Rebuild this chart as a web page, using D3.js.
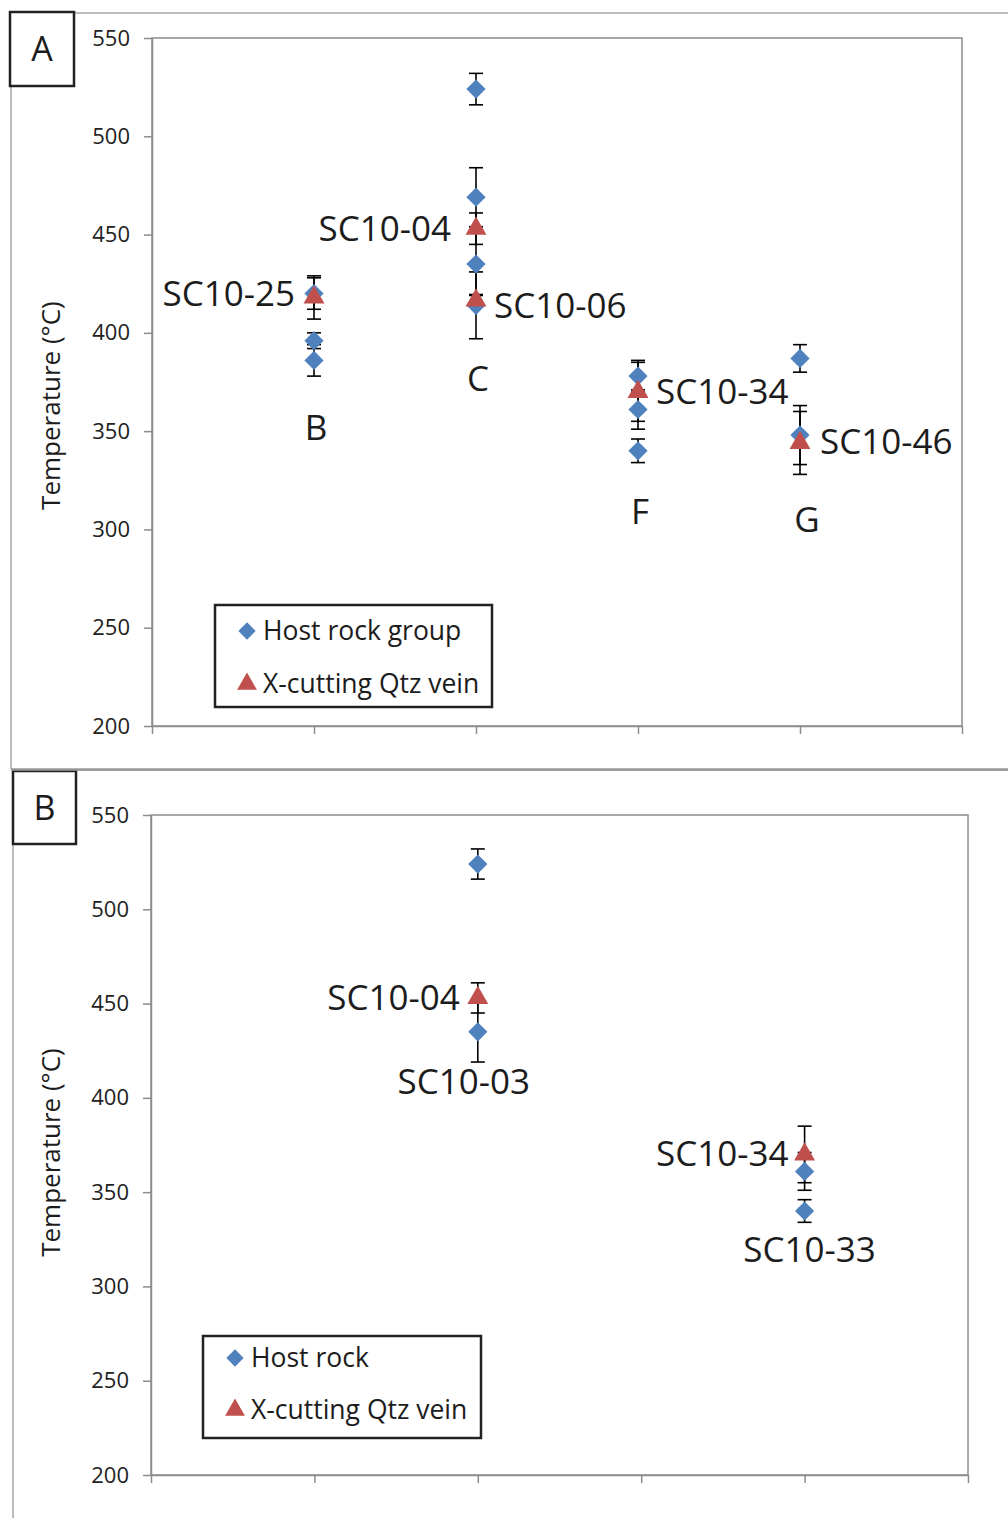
<!DOCTYPE html>
<html>
<head>
<meta charset="utf-8">
<script src="https://cdn.jsdelivr.net/npm/d3@7"></script>
<style>
  body { margin: 0; background: #fff; }
  svg { display: block; }
  text { font-family: "Open Sans", "Noto Sans", sans-serif; }
</style>
</head>
<body>
<svg id="fig" width="1008" height="1518"></svg>
<script>
// ---- shared axis settings ----
const yTicks = [200, 250, 300, 350, 400, 450, 500, 550];
const xTicks = [0, 1, 2, 3, 4, 5];

// ---- Panel A: host rock groups B, C, F, G with cross-cutting quartz veins ----
const hostA_x   = [1, 1, 1, 2, 2, 2, 2, 3, 3, 3, 4, 4];
const hostA_t   = [420, 396, 386, 524, 469, 435, 414, 378, 361, 340, 387, 348];
const hostA_err = [8, 4, 8, 8, 15, 16, 17, 8, 10, 6, 7, 15];

const veinA_x   = [1, 2, 2, 3, 4];
const veinA_t   = [418, 453, 416.5, 370, 344];
const veinA_err = [11, 8, 3, 15, 16];

const labelsA_text = ["SC10-25", "SC10-04", "SC10-06", "SC10-34", "SC10-46", "B", "C", "F", "G"];
const labelsA_x    = [1, 2, 2, 3, 4, 1, 2, 3, 4];
const labelsA_t    = [420, 453, 414, 370, 344.5, 352, 377, 309, 305];
const labelsA_side = ["left", "left", "right", "right", "right", "below", "below", "below", "below"];

const legendA = ["Host rock group", "X-cutting Qtz vein"];

// ---- Panel B: host rock samples with cross-cutting quartz veins ----
const hostB_x   = [2, 2, 4, 4];
const hostB_t   = [524, 435, 361, 340];
const hostB_err = [8, 16, 10, 6];

const veinB_x   = [2, 4];
const veinB_t   = [453, 370];
const veinB_err = [8, 15];

const labelsB_text = ["SC10-04", "SC10-03", "SC10-34", "SC10-33"];
const labelsB_x    = [2, 2, 4, 4];
const labelsB_t    = [453, 408.5, 370.5, 319.5];
const labelsB_side = ["left", "below", "left", "below"];

const legendB = ["Host rock", "X-cutting Qtz vein"];

const yTitle = "Temperature (\u00B0C)";

// ---- styles ----
const BLUE = "#4F81BD";
const RED = "#C0504D";
const AXIS = "#8c8c8c";
const INK = "#1c1c1c";

const svg = d3.select("#fig");

const zip = (xs, ts, es) => xs.map((x, i) => ({ x, t: ts[i], e: es ? es[i] : 0 }));

function panel(cfg) {
  const g = svg.append("g");

  // outer frame of the panel
  g.append("line").attr("x1", cfg.frame.x).attr("x2", 1008)
    .attr("y1", cfg.frame.y).attr("y2", cfg.frame.y)
    .attr("stroke", "#a6a6a6").attr("stroke-width", 1.5);
  g.append("line").attr("x1", cfg.frame.x).attr("x2", cfg.frame.x)
    .attr("y1", cfg.frame.y).attr("y2", cfg.frame.bottom)
    .attr("stroke", "#a6a6a6").attr("stroke-width", 1.5);

  // panel letter box
  g.append("rect").attr("x", cfg.tag.x).attr("y", cfg.tag.y)
    .attr("width", cfg.tag.w).attr("height", cfg.tag.h)
    .attr("fill", "#fff").attr("stroke", "#222").attr("stroke-width", 2.5);
  g.append("text").attr("x", cfg.tag.x + cfg.tag.w / 2).attr("y", cfg.tag.y + cfg.tag.h / 2 + 12)
    .attr("text-anchor", "middle").attr("font-size", 34).attr("fill", INK).text(cfg.tag.text);

  const x = d3.scaleLinear().domain([0, 5]).range([cfg.plot.x0, cfg.plot.x1]);
  const y = d3.scaleLinear().domain([200, 550]).range([cfg.plot.y1, cfg.plot.y0]);

  // plot area border
  g.append("rect").attr("x", cfg.plot.x0).attr("y", cfg.plot.y0)
    .attr("width", cfg.plot.x1 - cfg.plot.x0).attr("height", cfg.plot.y1 - cfg.plot.y0)
    .attr("fill", "none").attr("stroke", AXIS).attr("stroke-width", 1.5);

  // axes
  const ya = g.append("g").attr("transform", `translate(${cfg.plot.x0},0)`)
    .call(d3.axisLeft(y).tickValues(yTicks).tickSize(8).tickSizeOuter(0).tickPadding(14));
  ya.selectAll("text").attr("font-size", 22).attr("fill", "#222")
    .attr("font-family", "'Open Sans', sans-serif");
  const xa = g.append("g").attr("transform", `translate(0,${cfg.plot.y1})`)
    .call(d3.axisBottom(x).tickValues(xTicks).tickSize(8).tickSizeOuter(0).tickFormat(""));
  [ya, xa].forEach(a => {
    a.selectAll("path, line").attr("stroke", AXIS).attr("stroke-width", 1.5);
  });

  // axis title
  const ty = y(cfg.titleAt);
  g.append("text").attr("transform", `translate(${cfg.titleX},${ty}) rotate(-90)`)
    .attr("text-anchor", "middle").attr("font-size", 26).attr("fill", INK).text(yTitle);

  const host = zip(cfg.host_x, cfg.host_t, cfg.host_err);
  const vein = zip(cfg.vein_x, cfg.vein_t, cfg.vein_err);
  const cap = 7;

  // error bars (drawn beneath markers)
  const eb = g.append("g").attr("stroke", "#000").attr("stroke-width", 1.6);
  host.concat(vein).forEach(d => {
    const cx = x(d.x), ya0 = y(d.t + d.e), ya1 = y(d.t - d.e);
    eb.append("line").attr("x1", cx).attr("x2", cx).attr("y1", ya0).attr("y2", ya1);
    eb.append("line").attr("x1", cx - cap).attr("x2", cx + cap).attr("y1", ya0).attr("y2", ya0);
    eb.append("line").attr("x1", cx - cap).attr("x2", cx + cap).attr("y1", ya1).attr("y2", ya1);
  });

  const diamond = d3.symbol().type(d3.symbolDiamond2).size(235);
  const triangle = d3.symbol().type(d3.symbolTriangle).size(190);

  g.append("g").selectAll("path").data(host).join("path")
    .attr("d", diamond).attr("fill", BLUE)
    .attr("transform", d => `translate(${x(d.x)},${y(d.t)})`);
  g.append("g").selectAll("path").data(vein).join("path")
    .attr("d", triangle).attr("fill", RED)
    .attr("transform", d => `translate(${x(d.x)},${y(d.t)})`);

  // sample and group labels
  cfg.lab_text.forEach((txt, i) => {
    const side = cfg.lab_side[i];
    const cx = x(cfg.lab_x[i]);
    const nudge = (cfg.nudge && cfg.nudge[txt]) || 0;
    const lx = (side === "left" ? cx - 19 : side === "right" ? cx + 18 : cx + 2) + nudge;
    const anchor = side === "left" ? "end" : side === "right" ? "start" : "middle";
    g.append("text").attr("x", lx).attr("y", y(cfg.lab_t[i]) + 12.5)
      .attr("text-anchor", anchor).attr("font-size", 35).attr("fill", INK).text(txt);
  });

  // legend
  const L = cfg.legend;
  g.append("rect").attr("x", L.x).attr("y", L.y).attr("width", L.w).attr("height", L.h)
    .attr("fill", "#fff").attr("stroke", "#222").attr("stroke-width", 2.5);
  const col = [BLUE, RED];
  cfg.legendText.forEach((txt, i) => {
    const ry = L.y + L.rows[i];
    g.append("path")
      .attr("d", i === 0 ? d3.symbol().type(d3.symbolDiamond2).size(190)()
                         : d3.symbol().type(d3.symbolTriangle).size(170)())
      .attr("fill", col[i]).attr("transform", `translate(${L.x + 32},${ry})`);
    g.append("text").attr("x", L.x + 48).attr("y", ry + 9)
      .attr("font-size", 26.5).attr("fill", INK).text(txt);
  });
}

panel({
  frame: { x: 11, y: 13, bottom: 769 },
  tag: { x: 10, y: 12, w: 64, h: 74, text: "A" },
  plot: { x0: 152, x1: 962, y0: 38, y1: 726 },
  titleX: 60, titleAt: 363,
  host_x: hostA_x, host_t: hostA_t, host_err: hostA_err,
  vein_x: veinA_x, vein_t: veinA_t, vein_err: veinA_err,
  lab_text: labelsA_text, lab_x: labelsA_x, lab_t: labelsA_t, lab_side: labelsA_side,
  nudge: { "SC10-04": -6, "G": 5, "SC10-46": 2 },
  legend: { x: 215, y: 605, w: 277, h: 102, rows: [26, 79] },
  legendText: legendA
});

panel({
  frame: { x: 13, y: 770, bottom: 1518 },
  tag: { x: 13, y: 771, w: 63, h: 73, text: "B" },
  plot: { x0: 151, x1: 968, y0: 815, y1: 1475 },
  titleX: 60, titleAt: 371,
  host_x: hostB_x, host_t: hostB_t, host_err: hostB_err,
  vein_x: veinB_x, vein_t: veinB_t, vein_err: veinB_err,
  lab_text: labelsB_text, lab_x: labelsB_x, lab_t: labelsB_t, lab_side: labelsB_side,
  nudge: { "SC10-03": -16, "SC10-33": 3, "SC10-34": 3, "SC10-04": 1 },
  legend: { x: 203, y: 1336, w: 278, h: 102, rows: [22, 74] },
  legendText: legendB
});

// divider between the panels
svg.append("line").attr("x1", 11).attr("x2", 1008).attr("y1", 769.5).attr("y2", 769.5)
  .attr("stroke", "#999").attr("stroke-width", 2.5);
</script>
</body>
</html>
